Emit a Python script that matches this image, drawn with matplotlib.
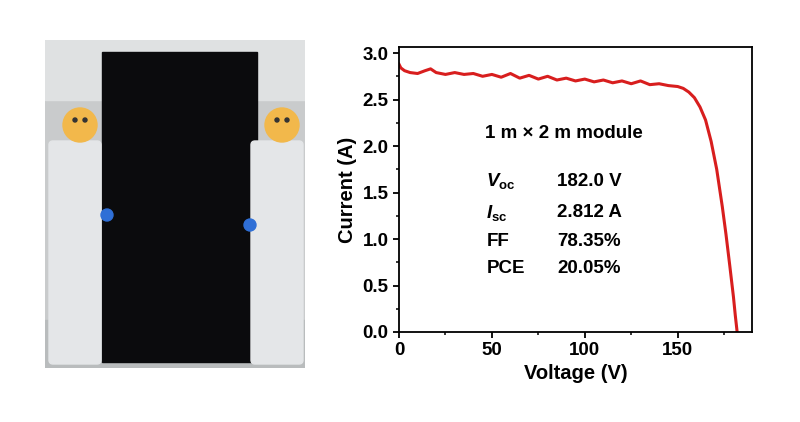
import matplotlib
matplotlib.use("Agg")
import matplotlib.pyplot as plt
import matplotlib.patches as mp
import numpy as np

voltage = [0, 1, 3, 6, 10, 14, 17, 20, 25, 30, 35, 40, 45, 50, 55, 60, 65, 70, 75, 80, 85, 90, 95, 100,
           105, 110, 115, 120, 125, 130, 135, 140, 145, 150, 153, 156, 159, 162, 165, 168, 171, 174, 176, 178, 180, 181, 182]
current = [2.88, 2.84, 2.81, 2.79, 2.78, 2.81, 2.83, 2.79, 2.77, 2.79, 2.77, 2.78, 2.75, 2.77, 2.74, 2.78, 2.73, 2.76, 2.72, 2.75, 2.71, 2.73, 2.70,
           2.72, 2.69, 2.71, 2.68, 2.70, 2.67, 2.70, 2.66, 2.67, 2.65, 2.64, 2.62, 2.58, 2.52, 2.42, 2.28, 2.05, 1.75, 1.35, 1.05, 0.72, 0.38, 0.18, 0.0]
xticks = [0, 50, 100, 150]
yticks = [0.0, 0.5, 1.0, 1.5, 2.0, 2.5, 3.0]
params = ["$V_{\\rm oc}$", "$I_{\\rm sc}$", "FF", "PCE"]
values = ["182.0 V", "2.812 A", "78.35%", "20.05%"]

fig = plt.figure(figsize=(8, 4.22), dpi=100)
plt.rcParams['font.family'] = ['Liberation Sans', 'DejaVu Sans']
plt.rcParams['mathtext.fontset'] = 'custom'
plt.rcParams['mathtext.it'] = 'Liberation Sans:bold:italic'
plt.rcParams['mathtext.rm'] = 'Liberation Sans:bold'

# photo approximation
ph = fig.add_axes([45/800, 1-368/422, 260/800, 328/422])
ph.set_xlim(0, 260); ph.set_ylim(328, 0); ph.axis('off')
ph.add_patch(mp.Rectangle((0, 0), 260, 328, color='#c9cbcc'))
ph.add_patch(mp.Rectangle((0, 0), 260, 60, color='#dfe1e2'))
ph.add_patch(mp.Rectangle((0, 280), 260, 48, color='#b9bcbd'))
ph.add_patch(mp.Rectangle((57, 12), 155, 310, color='#0b0b0d'))
for cx in (30, 232):
    ph.add_patch(mp.FancyBboxPatch((cx-22, 105), 44, 215, boxstyle='round,pad=4', color='#e4e6e8'))
    ph.add_patch(mp.Circle((cx+5, 85), 17, color='#f2b84b'))
    ph.add_patch(mp.Circle((cx, 80), 2, color='#333'))
    ph.add_patch(mp.Circle((cx+10, 80), 2, color='#333'))
ph.add_patch(mp.Circle((62, 175), 6, color='#2f6fd6'))
ph.add_patch(mp.Circle((205, 185), 6, color='#2f6fd6'))

ax = fig.add_axes([399/800, 1-332/422, 353/800, 285/422])
ax.plot(voltage, current, color='#d81e1e', lw=2.2)
ax.set_xlim(0, 190)
ax.set_ylim(0, 3.065)
ax.set_xticks(xticks)
ax.set_xticks([25, 75, 125, 175], minor=True)
ax.set_yticks(yticks)
ax.set_yticks(np.arange(0.25, 3.0, 0.5), minor=True)
ax.set_yticklabels([f"{v:.1f}" for v in yticks])
ax.tick_params(labelsize=13.5, width=1.3, length=4, direction='out')
ax.tick_params(which='minor', length=2.5, width=1.1)
for lab in ax.get_xticklabels() + ax.get_yticklabels():
    lab.set_fontweight('bold')
for s in ax.spines.values():
    s.set_linewidth(1.3)
ax.set_xlabel("Voltage (V)", fontsize=14.5, fontweight='bold', labelpad=3)
ax.set_ylabel("Current (A)", fontsize=14.5, fontweight='bold', labelpad=4)

ax.text(89, 2.14, "1 m × 2 m module", fontsize=13.5, fontweight='bold', ha='center', va='center')
ys = [1.62, 1.28, 0.97, 0.68]
for y, p, v in zip(ys, params, values):
    ax.text(47, y, p, fontsize=13.5, fontweight='bold', va='center')
    ax.text(85, y, v, fontsize=13.5, fontweight='bold', va='center')

fig.savefig("out.png", dpi=100)
